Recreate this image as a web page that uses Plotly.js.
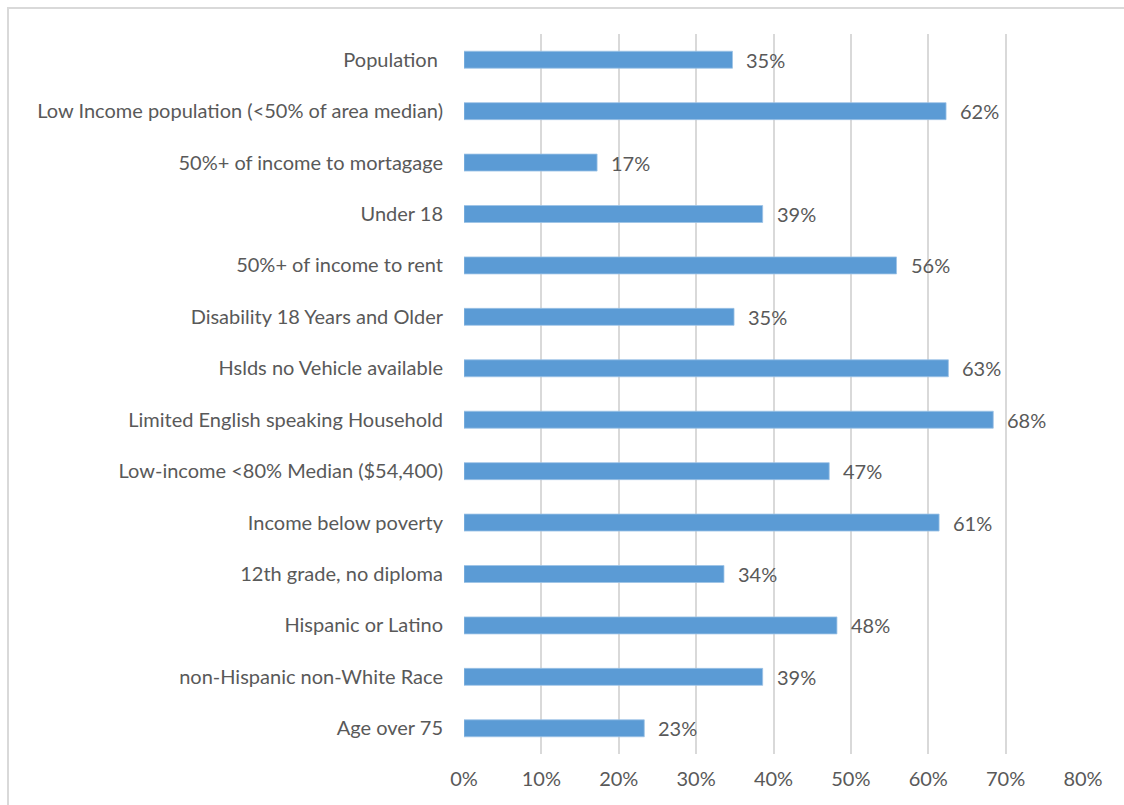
<!DOCTYPE html>
<html>
<head>
<meta charset="utf-8">
<script src="https://cdn.plot.ly/plotly-3.0.1.min.js"></script>
<style>
  html, body { margin: 0; padding: 0; background: #ffffff; overflow: hidden; }
  #frame { position: absolute; left: 7px; top: 7px; width: 1200px; height: 900px; border: 2px solid #d9d9d9; box-sizing: border-box; }
  #chart { position: absolute; left: 0; top: 0; width: 1124px; height: 805px; }
</style>
</head>
<body>
<div id="frame"></div>
<div id="chart"></div>
<script>
const categories = [
  "Population\u00a0",
  "Low Income population (<50% of area median)",
  "50%+ of income to mortagage",
  "Under 18",
  "50%+ of income to rent",
  "Disability 18 Years and Older",
  "Hslds no Vehicle available",
  "Limited English speaking Household",
  "Low-income <80% Median ($54,400)",
  "Income below poverty",
  "12th grade, no diploma",
  "Hispanic or Latino",
  "non-Hispanic non-White Race",
  "Age over 75"
];
const values = [0.347, 0.623, 0.172, 0.386, 0.559, 0.349, 0.626, 0.684, 0.472, 0.614, 0.336, 0.482, 0.386, 0.233];
const tickValues = [0, 0.1, 0.2, 0.3, 0.4, 0.5, 0.6, 0.7, 0.8];
const tickLabels = ["0%", "10%", "20%", "30%", "40%", "50%", "60%", "70%", "80%"];

const textColor = "#595959";
const fontFamily = "Lato, 'Open Sans', sans-serif";
const fontSize = 20;

const trace = {
  type: "bar",
  orientation: "h",
  x: values,
  y: categories,
  width: 0.33,
  marker: { color: "#5b9bd5", line: { color: "#9dc3e6", width: 0.8 } },
  hoverinfo: "skip"
};

const annotations = values.map((v, i) => ({
  x: v,
  y: categories[i],
  xref: "x",
  yref: "y",
  text: Math.round(v * 100) + "%",
  showarrow: false,
  xanchor: "left",
  yanchor: "middle",
  xshift: 12,
  font: { family: fontFamily, size: fontSize, color: textColor }
}));

const layout = {
  width: 1124,
  height: 805,
  paper_bgcolor: "rgba(0,0,0,0)",
  plot_bgcolor: "rgba(0,0,0,0)",
  margin: { l: 464, r: 41, t: 34, b: 51, pad: 0 },
  showlegend: false,
  font: { family: fontFamily, size: fontSize, color: textColor },
  xaxis: {
    range: [0, 0.8],
    tickvals: tickValues,
    ticktext: tickLabels,
    showgrid: true,
    gridcolor: "#d9d9d9",
    gridwidth: 2,
    zeroline: false,
    showline: false,
    ticks: "",
    ticklabelstandoff: 11,
    tickfont: { family: fontFamily, size: fontSize, color: textColor },
    fixedrange: true
  },
  yaxis: {
    autorange: "reversed",
    type: "category",
    showgrid: false,
    zeroline: false,
    showline: false,
    ticks: "",
    ticklabelstandoff: 20,
    tickfont: { family: fontFamily, size: fontSize, color: textColor },
    fixedrange: true
  },
  annotations: annotations
};

Plotly.newPlot("chart", [trace], layout, { displayModeBar: false, staticPlot: true });
</script>
</body>
</html>
